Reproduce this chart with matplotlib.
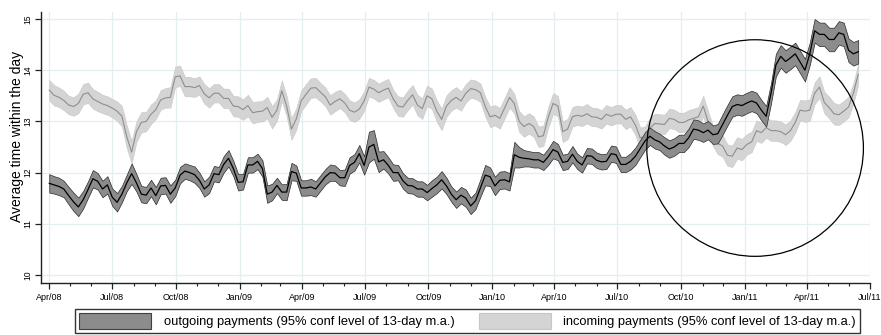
import matplotlib
matplotlib.use("Agg")
import matplotlib.pyplot as plt
import matplotlib.dates as mdates
from matplotlib.patches import Ellipse, Patch
import numpy as np
import pandas as pd

plt.rcParams['font.family'] = ['Liberation Sans', 'DejaVu Sans']

# weekly readings of the 13-day moving average (hour of day)
start_date = "2008-04-01"

outgoing = [
    11.79, 11.76, 11.73, 11.68, 11.55, 11.43, 11.33, 11.47, 11.67, 11.88,
    11.83, 11.68, 11.76, 11.52, 11.42, 11.58, 11.80, 11.98, 11.80, 11.58,
    11.56, 11.70, 11.55, 11.74, 11.75, 11.58, 11.70, 11.95, 12.03, 12.00,
    11.96, 11.85, 11.68, 11.76, 11.98, 11.96, 12.16, 12.28, 12.08, 11.81,
    11.82, 12.15, 12.15, 12.22, 12.08, 11.58, 11.62, 11.75, 11.62, 11.62,
    12.02, 11.99, 11.70, 11.70, 11.72, 11.68, 11.80, 11.92, 12.00, 11.99,
    11.90, 11.90, 12.14, 12.20, 12.37, 12.14, 12.50, 12.55, 12.21, 12.25,
    12.14, 12.00, 12.00, 11.84, 11.75, 11.74, 11.68, 11.68, 11.61, 11.69,
    11.76, 11.86, 11.74, 11.58, 11.47, 11.56, 11.50, 11.35, 11.45, 11.70,
    11.95, 11.92, 11.74, 11.85, 11.86, 11.82, 12.35, 12.30, 12.28, 12.27,
    12.25, 12.25, 12.20, 12.31, 12.45, 12.40, 12.20, 12.22, 12.36, 12.22,
    12.15, 12.33, 12.32, 12.24, 12.21, 12.22, 12.37, 12.35, 12.16, 12.16,
    12.22, 12.32, 12.47, 12.62, 12.71, 12.64, 12.60, 12.52, 12.46, 12.50,
    12.57, 12.57, 12.68, 12.85, 12.83, 12.78, 12.83, 12.74, 12.76, 12.94,
    13.12, 13.29, 13.33, 13.31, 13.36, 13.40, 13.36, 13.22, 13.10, 13.55,
    14.10, 14.27, 14.17, 14.24, 14.32, 14.16, 14.00, 14.32, 14.77, 14.70,
    14.70, 14.60, 14.60, 14.73, 14.70, 14.39, 14.32, 14.36,
]

incoming = [
    13.61, 13.51, 13.47, 13.41, 13.32, 13.29, 13.35, 13.53, 13.56, 13.44,
    13.39, 13.34, 13.31, 13.26, 13.20, 13.10, 12.70, 12.40, 12.80, 12.98,
    13.00, 13.14, 13.23, 13.42, 13.46, 13.47, 13.87, 13.89, 13.68, 13.68,
    13.66, 13.70, 13.54, 13.46, 13.55, 13.55, 13.45, 13.45, 13.30, 13.29,
    13.23, 13.31, 13.17, 13.19, 13.20, 13.27, 13.08, 13.22, 13.60, 13.30,
    12.85, 13.05, 13.40, 13.53, 13.65, 13.66, 13.57, 13.48, 13.32, 13.39,
    13.44, 13.36, 13.22, 13.18, 13.24, 13.40, 13.67, 13.63, 13.56, 13.61,
    13.65, 13.44, 13.30, 13.28, 13.41, 13.52, 13.32, 13.25, 13.50, 13.44,
    13.20, 13.04, 13.30, 13.41, 13.47, 13.40, 13.55, 13.64, 13.62, 13.56,
    13.29, 13.09, 13.12, 13.06, 13.26, 13.47, 13.35, 13.00, 12.90, 12.96,
    12.90, 12.70, 12.72, 13.08, 13.35, 13.30, 12.80, 12.85, 13.09, 13.12,
    13.10, 13.15, 13.09, 13.08, 13.04, 13.14, 13.10, 13.14, 13.14, 13.04,
    13.09, 12.93, 12.68, 12.70, 12.87, 12.96, 12.95, 12.94, 13.06, 13.04,
    12.98, 12.98, 13.03, 13.06, 13.09, 13.30, 13.00, 12.72, 12.57, 12.52,
    12.34, 12.32, 12.48, 12.45, 12.55, 12.60, 12.82, 12.78, 12.88, 12.82,
    12.82, 12.80, 12.74, 12.82, 12.98, 13.22, 13.20, 13.22, 13.55, 13.67,
    13.37, 13.27, 13.15, 13.13, 13.20, 13.28, 13.55, 13.92,
]

# half-width of the 95% confidence band
outgoing_hw = [
    0.18, 0.17, 0.17, 0.16, 0.17, 0.18, 0.18, 0.17, 0.16, 0.17,
    0.16, 0.16, 0.17, 0.17, 0.18, 0.16, 0.16, 0.20, 0.17, 0.16,
    0.16, 0.16, 0.17, 0.16, 0.16, 0.17, 0.16, 0.16, 0.15, 0.15,
    0.16, 0.15, 0.15, 0.16, 0.15, 0.15, 0.16, 0.16, 0.15, 0.16,
    0.15, 0.15, 0.15, 0.15, 0.16, 0.17, 0.16, 0.15, 0.15, 0.16,
    0.17, 0.15, 0.15, 0.15, 0.16, 0.15, 0.15, 0.15, 0.16, 0.15,
    0.15, 0.16, 0.16, 0.16, 0.17, 0.18, 0.30, 0.28, 0.20, 0.17,
    0.16, 0.16, 0.15, 0.15, 0.15, 0.15, 0.15, 0.15, 0.15, 0.16,
    0.16, 0.17, 0.16, 0.15, 0.16, 0.16, 0.17, 0.16, 0.16, 0.17,
    0.20, 0.18, 0.18, 0.17, 0.17, 0.17, 0.25, 0.20, 0.16, 0.15,
    0.15, 0.15, 0.15, 0.16, 0.17, 0.16, 0.15, 0.15, 0.16, 0.15,
    0.15, 0.15, 0.15, 0.15, 0.15, 0.15, 0.16, 0.16, 0.15, 0.15,
    0.16, 0.17, 0.17, 0.17, 0.17, 0.17, 0.16, 0.17, 0.17, 0.17,
    0.17, 0.17, 0.18, 0.19, 0.19, 0.18, 0.18, 0.18, 0.19, 0.20,
    0.20, 0.20, 0.20, 0.20, 0.20, 0.20, 0.20, 0.20, 0.20, 0.20,
    0.22, 0.22, 0.22, 0.22, 0.22, 0.22, 0.22, 0.22, 0.23, 0.23,
    0.23, 0.23, 0.23, 0.23, 0.23, 0.23, 0.23, 0.23,
]

incoming_hw = [
    0.20, 0.20, 0.19, 0.19, 0.18, 0.18, 0.19, 0.20, 0.20, 0.19,
    0.19, 0.18, 0.18, 0.18, 0.19, 0.20, 0.22, 0.22, 0.20, 0.20,
    0.19, 0.19, 0.18, 0.19, 0.19, 0.20, 0.20, 0.20, 0.19, 0.19,
    0.18, 0.18, 0.19, 0.19, 0.18, 0.18, 0.19, 0.19, 0.20, 0.20,
    0.20, 0.21, 0.21, 0.20, 0.20, 0.21, 0.22, 0.21, 0.20, 0.20,
    0.21, 0.21, 0.20, 0.20, 0.19, 0.19, 0.18, 0.18, 0.19, 0.19,
    0.18, 0.18, 0.19, 0.19, 0.19, 0.19, 0.18, 0.18, 0.18, 0.18,
    0.18, 0.18, 0.19, 0.19, 0.19, 0.19, 0.20, 0.20, 0.20, 0.20,
    0.21, 0.21, 0.21, 0.20, 0.20, 0.19, 0.18, 0.18, 0.18, 0.18,
    0.19, 0.20, 0.20, 0.20, 0.20, 0.20, 0.19, 0.20, 0.20, 0.20,
    0.20, 0.20, 0.20, 0.20, 0.20, 0.20, 0.20, 0.20, 0.19, 0.19,
    0.19, 0.19, 0.18, 0.18, 0.18, 0.18, 0.18, 0.18, 0.18, 0.19,
    0.19, 0.20, 0.20, 0.20, 0.20, 0.19, 0.19, 0.19, 0.19, 0.19,
    0.19, 0.19, 0.19, 0.19, 0.19, 0.20, 0.20, 0.20, 0.21, 0.21,
    0.21, 0.21, 0.21, 0.21, 0.20, 0.20, 0.20, 0.20, 0.20, 0.20,
    0.20, 0.20, 0.20, 0.20, 0.20, 0.20, 0.21, 0.21, 0.21, 0.21,
    0.21, 0.21, 0.21, 0.20, 0.20, 0.20, 0.20, 0.20,
]

legend_labels = ["outgoing payments (95% conf level of 13-day m.a.)",
                 "incoming payments (95% conf level of 13-day m.a.)"]

dates = pd.date_range(start_date, periods=len(outgoing), freq="7D")
out = np.array(outgoing)
inc = np.array(incoming)
out_hw = np.array(outgoing_hw)
inc_hw = np.array(incoming_hw)

fig = plt.figure(figsize=(8.81, 3.35), dpi=100)
ax = fig.add_axes([0.0465, 0.1552, 0.941, 0.809])

grid_col = "#e4eef0"
ax.grid(True, which="major", color=grid_col, linewidth=0.9)
ax.set_axisbelow(True)

# incoming payments
ax.fill_between(dates, inc - inc_hw, inc + inc_hw, facecolor="#d4d4d4",
                edgecolor="#c6c6c6", linewidth=0.4, zorder=2)
ax.plot(dates, inc, color="#8e8e8e", linewidth=0.8, zorder=3)

# outgoing payments
ax.fill_between(dates, out - out_hw, out + out_hw, facecolor="#8c8c8c",
                edgecolor="#2a2a2a", linewidth=0.5, zorder=4)
ax.plot(dates, out, color="black", linewidth=0.9, zorder=5)

ax.set_xlim(pd.Timestamp("2008-03-20"), pd.Timestamp("2011-07-01"))
ax.set_ylim(9.844, 15.137)

ax.xaxis.set_major_locator(mdates.MonthLocator(bymonth=[1, 4, 7, 10]))
ax.xaxis.set_minor_locator(mdates.MonthLocator())
ax.xaxis.set_major_formatter(mdates.DateFormatter("%b/%y"))
ax.set_yticks([10, 11, 12, 13, 14, 15])

ax.tick_params(axis="x", which="major", length=4.5, width=0.9, pad=2.5,
               labelsize=6.5, color="#202020")
ax.tick_params(axis="x", which="minor", length=2.2, width=0.8, color="#202020")
ax.tick_params(axis="y", which="major", length=4.5, width=0.9, pad=2,
               labelsize=6.2, color="#202020")
for lab in ax.get_yticklabels():
    lab.set_rotation(90)
    lab.set_va("center")

for side in ["top", "right"]:
    ax.spines[side].set_visible(False)
for side in ["left", "bottom"]:
    ax.spines[side].set_linewidth(1.0)
    ax.spines[side].set_color("#202020")

ax.set_ylabel("Average time within the day", fontsize=10)
ax.yaxis.set_label_coords(-0.0205, 0.54)

# ring round the last months
ring = Ellipse((mdates.date2num(pd.Timestamp("2011-01-16")), 12.48),
               width=313, height=4.23, fill=False, edgecolor="black",
               linewidth=0.9, zorder=6)
ax.add_patch(ring)

handles = [Patch(facecolor="#8c8c8c", edgecolor="#404040", linewidth=0.8),
           Patch(facecolor="#d4d4d4", edgecolor="#c6c6c6", linewidth=0.8)]
leg = fig.legend(handles, legend_labels, loc="upper center",
                 bbox_to_anchor=(0.5307, 0.097), ncol=2, fontsize=9.3,
                 handlelength=5.6, handleheight=1.6, handletextpad=0.95,
                 columnspacing=1.9, borderpad=0.3, frameon=True,
                 fancybox=False)
leg.get_frame().set_edgecolor("black")
leg.get_frame().set_linewidth(1.0)

fig.savefig("out.png", dpi=100)
